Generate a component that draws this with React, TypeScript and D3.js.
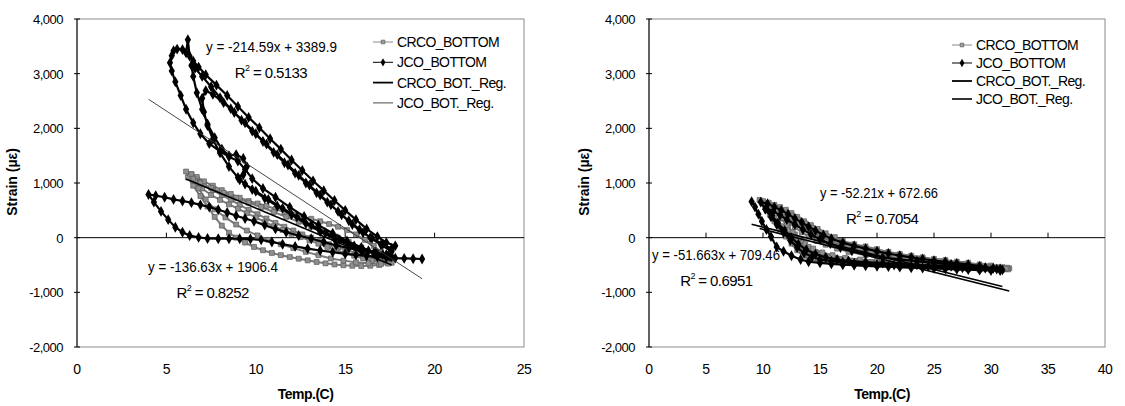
import * as d3 from "d3";

type Pt = [number, number];

// legend / tick labels
const legendNames = ["CRCO_BOTTOM", "JCO_BOTTOM", "CRCO_BOT._Reg.", "JCO_BOT._Reg."];
const yTicks = [-2000, -1000, 0, 1000, 2000, 3000, 4000];
const leftXTicks = [0, 5, 10, 15, 20, 25];
const rightXTicks = [0, 5, 10, 15, 20, 25, 30, 35, 40];

// left chart, JCO_BOTTOM (temp, strain)
const leftJco: Pt[] = [
  [19.3, -390], [18.8, -385], [18.3, -380], [17.8, -375], [17.3, -365], [16.8, -350], [16.2, -335], [15.6, -315],
  [15.0, -295], [14.3, -265], [13.6, -235], [12.9, -200], [12.2, -160], [11.5, -120], [10.9, -80], [10.3, -40],
  [9.7, -25], [9.1, -20], [8.5, -20], [7.9, -20], [7.3, -15], [6.8, 5], [6.3, 40], [5.9, 100], [5.5, 190],
  [5.1, 330], [4.7, 480], [4.3, 650], [4.0, 790], [4.4, 770], [4.9, 740], [5.4, 700], [5.9, 670], [6.4, 640],
  [6.9, 600], [7.4, 560], [7.9, 510], [8.4, 460], [8.9, 400], [9.4, 350], [9.9, 300], [10.5, 230], [11.1, 160],
  [11.7, 100], [12.4, 40], [13.1, -20], [13.8, -80], [14.5, -140], [15.2, -190], [15.9, -240], [16.6, -280],
  [17.3, -310],
  [17.6, -200], [17.1, -120], [16.5, -10], [16.0, 90], [15.4, 240], [14.8, 420], [14.2, 600], [13.6, 780],
  [13.0, 960], [12.4, 1140], [11.8, 1330], [11.2, 1520], [10.6, 1710], [10.0, 1900], [9.4, 2100], [8.8, 2290],
  [8.2, 2470], [7.6, 2620], [7.2, 2690], [7.0, 2550], [7.1, 2300], [7.3, 2050], [7.6, 1800], [8.0, 1550],
  [8.5, 1300], [9.1, 1060], [9.8, 880], [10.5, 720], [11.2, 580], [12.0, 420], [12.8, 260], [13.6, 110],
  [14.4, -20], [15.2, -140], [16.0, -230], [16.8, -300], [17.5, -340],
  [17.8, -150], [17.3, -90], [16.8, 20], [16.2, 160], [15.6, 330], [15.0, 500], [14.4, 680], [13.8, 860],
  [13.2, 1040], [12.6, 1230], [12.0, 1420], [11.4, 1620], [10.8, 1810], [10.2, 2010], [9.6, 2200], [9.0, 2400],
  [8.4, 2600], [7.8, 2790], [7.2, 2980], [6.8, 3120], [6.5, 3230], [6.3, 3320], [6.2, 3620], [6.1, 3380],
  [5.9, 3440], [5.6, 3450], [5.4, 3420], [5.3, 3330], [5.2, 3200], [5.3, 3050], [5.5, 2850], [5.8, 2600],
  [6.1, 2350], [6.5, 2100], [6.9, 1900], [7.4, 1720], [8.0, 1580], [8.5, 1480], [9.0, 1400], [9.4, 1250],
  [9.8, 1080], [10.4, 900], [11.1, 740], [11.9, 560], [12.7, 390], [13.5, 230], [14.3, 80], [15.1, -60],
  [15.9, -180], [16.7, -270], [17.4, -330],
  [17.6, -250], [17.0, -130], [16.4, 0], [15.8, 150], [15.2, 310], [14.6, 480], [14.0, 650], [13.4, 820],
  [12.8, 1000], [12.2, 1180], [11.6, 1370], [11.0, 1560], [10.4, 1760], [9.8, 1950], [9.2, 2150], [8.6, 2360],
  [8.0, 2560], [7.5, 2760], [7.0, 2950], [6.6, 3100], [6.4, 3150], [6.5, 2950], [6.7, 2650], [7.0, 2350],
  [7.3, 2080], [7.7, 1830], [8.1, 1620], [8.5, 1500], [8.9, 1520], [9.3, 1450], [9.5, 1300], [9.3, 1150],
  [9.0, 1100], [9.4, 980], [10.0, 850], [10.7, 700], [11.5, 540], [12.3, 380], [13.1, 230], [13.9, 90],
  [14.7, -40], [15.5, -150], [16.3, -240], [17.1, -310], [17.6, -350],
];

// left chart, CRCO_BOTTOM
const leftCrco: Pt[] = [
  [17.6, -460], [17.1, -420], [16.6, -380], [16.1, -330], [15.6, -280], [15.1, -230], [14.6, -180], [14.1, -120],
  [13.6, -60], [13.1, 0], [12.6, 60], [12.1, 130], [11.6, 200], [11.1, 270], [10.6, 350], [10.1, 430],
  [9.6, 510], [9.1, 600], [8.6, 690], [8.1, 780], [7.6, 870], [7.1, 970], [6.7, 1070], [6.4, 1160], [6.1, 1210],
  [6.2, 1100], [6.5, 950], [6.9, 760], [7.3, 570], [7.7, 380], [8.1, 220], [8.5, 90], [8.9, 0], [9.4, -90],
  [9.9, -170], [10.4, -230], [10.9, -280], [11.4, -320], [11.9, -355], [12.4, -385], [12.9, -415], [13.4, -445],
  [13.9, -470], [14.4, -490], [14.9, -505], [15.4, -515], [15.9, -520], [16.4, -515], [16.9, -500], [17.4, -475],
  [17.0, -260], [16.6, -150], [16.1, -40], [15.6, 60], [15.1, 140], [14.6, 200], [14.1, 250], [13.6, 300],
  [13.1, 345], [12.6, 385], [12.1, 425], [11.6, 470], [11.1, 525], [10.6, 580], [10.1, 625], [9.6, 670],
  [9.1, 730], [8.6, 800], [8.1, 870], [7.6, 950], [7.1, 1030], [6.7, 1110], [6.4, 1160], [6.6, 1040], [7.0, 900],
  [7.5, 780], [8.0, 690], [8.5, 610], [9.0, 530], [9.5, 450], [10.0, 370], [10.5, 290], [11.0, 210], [11.5, 140],
  [12.0, 70], [12.5, 10], [13.0, -50], [13.5, -110], [14.0, -170], [14.5, -230], [15.0, -280], [15.5, -330],
  [16.0, -380], [16.5, -420], [17.0, -450],
  [17.3, -380], [16.6, -280], [15.9, -180], [15.2, -80], [14.5, 20], [13.8, 110], [13.1, 200], [12.4, 290],
  [11.7, 380], [11.0, 470], [10.3, 560], [9.6, 640], [8.9, 730], [8.2, 820], [7.5, 910], [6.9, 1000], [6.5, 1080],
  [6.8, 900], [7.2, 700], [7.7, 520], [8.3, 370], [8.9, 240], [9.5, 130], [10.1, 40], [10.7, -40], [11.4, -120],
  [12.1, -190], [12.8, -260], [13.5, -320], [14.2, -380], [14.9, -420], [15.6, -450], [16.3, -470], [17.0, -480],
];

// right chart, CRCO_BOTTOM
const rightCrco: Pt[] = [
  [31.6, -560], [31, -540], [30, -510], [29, -490], [28, -460], [27, -440], [26, -410], [25, -390], [24, -360],
  [23, -330], [22, -300], [21, -260], [20, -210], [19, -160], [18, -120], [17, -60], [16.3, 10], [15.5, 80],
  [14.8, 160], [14.2, 230], [13.6, 300], [13, 380], [12.5, 450], [12, 510], [11.5, 560], [11, 600], [10.5, 640],
  [10, 670], [9.7, 690], [10.2, 560], [10.6, 420], [11, 300], [11.5, 150], [12, 20], [12.5, -110], [13, -230],
  [13.5, -330], [14, -390], [15, -430], [16, -450], [17, -470], [18, -480], [19, -490], [20, -500], [21, -505],
  [22, -520], [23, -530], [24, -540], [25, -545], [26, -555], [27, -565], [28, -575], [29, -585], [30, -590],
  [31, -590], [31.5, -580],
  [31.2, -570], [30, -550], [29, -530], [28, -510], [27, -490], [26, -470], [25, -450], [24, -430], [23, -400],
  [22, -370], [21, -330], [20, -290], [19, -250], [18, -200], [17, -150], [16, -80], [15.2, 0], [14.5, 80],
  [13.8, 170], [13.2, 260], [12.6, 340], [12, 420], [11.4, 480], [10.8, 530], [10.4, 560], [10.8, 420],
  [11.3, 260], [11.8, 120], [12.3, 0], [12.8, -120], [13.4, -240], [14, -320], [14.8, -380], [15.6, -420],
  [16.5, -440], [17.5, -460], [18.5, -470], [19.5, -480], [20.5, -490], [21.5, -500], [22.5, -510], [23.5, -515],
  [24.5, -525], [25.5, -530], [26.5, -540], [27.5, -550], [28.5, -555], [29.5, -560], [30.5, -565],
  [30, -540], [28, -500], [26, -450], [24, -400], [22, -330], [20, -250], [19, -210], [18, -160], [17, -110],
  [16, -40], [15, 40], [14.3, 110], [13.6, 200], [13, 280], [12.4, 360], [11.8, 430], [11.2, 480], [11.6, 350],
  [12.2, 200], [12.8, 60], [13.4, -60], [14, -170], [14.6, -260], [15.3, -330], [16, -380], [17, -410],
  [18, -430], [19, -450], [20, -460], [21, -470], [22, -480], [23, -490], [24, -500], [25, -505], [26, -515],
  [27, -525], [28, -530], [29, -540],
  [31.4, -550], [29.5, -520], [27.5, -480], [25.5, -430], [23.5, -380], [21.5, -320], [19.5, -240], [18.5, -190],
  [17.5, -130], [16.5, -60], [15.7, 20], [15, 100], [14.3, 180], [13.7, 260], [13.1, 330], [12.5, 400],
  [11.9, 460], [11.3, 520], [10.7, 570], [10.1, 620], [10.5, 500], [11, 360], [11.6, 210], [12.2, 80],
  [12.8, -40], [13.5, -150], [14.2, -240], [15, -310], [15.8, -360], [16.8, -400], [18, -430], [19.5, -450],
  [21, -470], [22.5, -490], [24, -505], [25.5, -520], [27, -530], [28.5, -545], [30, -555], [31.3, -565],
  [30.8, -555], [29, -525], [27, -495], [25, -465], [23, -425], [21, -380], [19, -320], [17.5, -260],
  [16.5, -200], [15.5, -130], [14.7, -60], [14, 20], [13.4, 100], [12.8, 190], [12.2, 280], [11.7, 360],
  [12.1, 230], [12.6, 100], [13.1, -20], [13.7, -120], [14.4, -200], [15.2, -270], [16.1, -320], [17.2, -370],
  [18.5, -400], [20, -420], [21.5, -440], [23, -460], [24.5, -480], [26, -495], [27.5, -510], [29, -525],
  [30.5, -540],
];

// right chart, JCO_BOTTOM
const rightJco: Pt[] = [
  [9.0, 660], [9.3, 560], [9.6, 430], [9.9, 300], [10.3, 150], [10.7, 20], [11.2, -170], [11.8, -250],
  [12.5, -330], [13.3, -400], [14, -440], [15, -460], [16, -480], [17, -495], [18, -505], [19, -515], [20, -525],
  [21, -530], [22, -540], [23, -550], [24, -555], [25, -560], [26, -570], [27, -580], [28, -585], [29, -595],
  [30, -600], [30.8, -600], [30.2, -560], [29, -520], [28, -490], [27, -470], [26, -440], [25, -420], [24, -390],
  [23, -360], [22, -330], [21, -290], [20, -250], [19, -200], [18, -150], [17, -90], [16, -20], [15.3, 50],
  [14.6, 130], [14, 200], [13.4, 280], [12.8, 350], [12.2, 430], [11.6, 500], [11, 560], [10.4, 620], [9.8, 650],
  [10.2, 520], [10.7, 380], [11.2, 240], [11.8, 90], [12.4, -50], [13, -180], [13.6, -280], [14.3, -350],
  [15, -400], [16, -430], [17, -450], [18, -465], [19, -475], [20, -490], [21.5, -500], [23, -515], [24.5, -525],
  [26, -540], [27.5, -550], [29, -560], [30.5, -575],
  [31, -590], [29.5, -550], [28, -520], [26.5, -490], [25, -460], [23.5, -430], [22, -400], [20.5, -360],
  [19, -300], [17.8, -240], [16.8, -180], [15.9, -110], [15, -30], [14.2, 60], [13.5, 150], [12.8, 240],
  [12.1, 330], [11.5, 410], [10.9, 480], [10.3, 540], [10.8, 400], [11.3, 270], [11.9, 130], [12.5, 0],
  [13.1, -120], [13.8, -220], [14.6, -300], [15.5, -360], [16.5, -400], [17.5, -425], [19, -445], [20.5, -465],
  [22, -480], [23.5, -495], [25, -510], [26.5, -525], [28, -540], [29.5, -555], [30.8, -570],
];

// trend lines (from the Excel labels)
const leftCrcoReg = { slope: -136.63, intercept: 1906.4, eq: "y = -136.63x + 1906.4", r2: "0.8252" };
const leftJcoReg = { slope: -214.59, intercept: 3389.9, eq: "y = -214.59x + 3389.9", r2: "0.5133" };
const rightCrcoReg = { slope: -52.21, intercept: 672.66, eq: "y = -52.21x + 672.66", r2: "0.7054" };
const rightJcoReg = { slope: -51.663, intercept: 709.46, eq: "y = -51.663x + 709.46", r2: "0.6951" };

const FONT = "'Liberation Sans', Arial, sans-serif";
const fmt = (v: number) => d3.format(",")(v).replace("\u2212", "-");

type Reg = typeof leftCrcoReg;
type LabelPos = { x: number; y: number; w: number };

function Panel(props: {
  left: number;
  right: number;
  xMax: number;
  xTicks: number[];
  crco: Pt[];
  jco: Pt[];
  crcoReg: Reg;
  jcoReg: Reg;
  crcoLabel: LabelPos;
  jcoLabel: LabelPos;
  legend: { x: number; y: number; step: number };
  jcoRegColor: string;
  jcoRegWidth: number;
}) {
  const { left, right, xMax, xTicks, crco, jco, crcoReg, jcoReg, crcoLabel, jcoLabel, legend } = props;
  const top = 19;
  const bottom = 347;
  const x = d3.scaleLinear().domain([0, xMax]).range([left, right]);
  const y = d3.scaleLinear().domain([-2000, 4000]).range([bottom, top]);
  const line = d3
    .line<Pt>()
    .x((d) => x(d[0]))
    .y((d) => y(d[1]));
  const regLine = (reg: Reg, data: Pt[]) => {
    const ext = d3.extent(data, (d) => d[0]) as [number, number];
    return line(ext.map((t) => [t, reg.slope * t + reg.intercept] as Pt));
  };
  const diamond = d3.symbol(d3.symbolDiamond, 34)();
  const square = d3.symbol(d3.symbolSquare, 24)();
  const legDiamond = d3.symbol(d3.symbolDiamond, 20)();
  const legSquare = d3.symbol(d3.symbolSquare, 14)();
  const midX = (left + right) / 2;

  const eqLabel = (reg: Reg, p: LabelPos) => (
    <g fontFamily={FONT} fill="#000">
      <text x={p.x} y={p.y} fontSize={15} textLength={p.w} lengthAdjust="spacingAndGlyphs">
        {reg.eq}
      </text>
      <text x={p.x + p.w * 0.22} y={p.y + 26} fontSize={15} letterSpacing={-0.6}>
        R<tspan fontSize={9} dy={-7}>2</tspan>
        <tspan dy={7}> = {reg.r2}</tspan>
      </text>
    </g>
  );

  return (
    <g>
      <rect x={left} y={top} width={right - left} height={bottom - top} fill="#fff" stroke="#8c8c8c" strokeWidth={1} />
      <line x1={left} x2={left} y1={top} y2={bottom} stroke="#000" />
      <line x1={left} x2={right} y1={y(0)} y2={y(0)} stroke="#000" />
      {yTicks.map((t) => (
        <g key={t}>
          <line x1={left - 3} x2={left + 3} y1={y(t)} y2={y(t)} stroke="#000" />
          <text x={left - 14} y={y(t) + 5} textAnchor="end" fontSize={13} fontFamily={FONT} letterSpacing={-0.5}>
            {fmt(t)}
          </text>
        </g>
      ))}
      {xTicks.map((t) => (
        <g key={t}>
          {t > 0 && t < xMax && <line x1={x(t)} x2={x(t)} y1={y(0)} y2={y(0) - 5} stroke="#000" />}
          <text x={x(t)} y={374} textAnchor="middle" fontSize={14} fontFamily={FONT} letterSpacing={-0.5}>
            {t}
          </text>
        </g>
      ))}
      {/* CRCO series */}
      <path d={line(crco) ?? ""} fill="none" stroke="#7a7a7a" strokeWidth={2} />
      {crco.map((d, i) => (
        <path key={i} d={square} transform={`translate(${x(d[0])},${y(d[1])})`} fill="#8f8f8f" stroke="#5a5a5a" strokeWidth={0.7} />
      ))}
      {/* JCO series */}
      <path d={line(jco) ?? ""} fill="none" stroke="#000" strokeWidth={2.2} />
      {jco.map((d, i) => (
        <path key={i} d={diamond} transform={`translate(${x(d[0])},${y(d[1])})`} fill="#000" />
      ))}
      {/* trend lines */}
      <path d={regLine(crcoReg, crco) ?? ""} fill="none" stroke="#000" strokeWidth={1.6} />
      <path d={regLine(jcoReg, jco) ?? ""} fill="none" stroke={props.jcoRegColor} strokeWidth={props.jcoRegWidth} />
      {eqLabel(jcoReg, jcoLabel)}
      {eqLabel(crcoReg, crcoLabel)}
      {/* legend */}
      {legendNames.map((name, i) => {
        const ly = legend.y + i * legend.step;
        const lx = legend.x;
        return (
          <g key={name}>
            {i === 0 && (
              <>
                <line x1={lx} x2={lx + 20} y1={ly} y2={ly} stroke="#8a8a8a" strokeWidth={1} />
                <path d={legSquare} transform={`translate(${lx + 10},${ly})`} fill="#9a9a9a" stroke="#555" strokeWidth={0.6} />
              </>
            )}
            {i === 1 && (
              <>
                <line x1={lx} x2={lx + 20} y1={ly} y2={ly} stroke="#000" strokeWidth={1} />
                <path d={legDiamond} transform={`translate(${lx + 10},${ly})`} fill="#000" />
              </>
            )}
            {i === 2 && <line x1={lx} x2={lx + 20} y1={ly} y2={ly} stroke="#000" strokeWidth={1.8} />}
            {i === 3 && (
              <line x1={lx} x2={lx + 20} y1={ly} y2={ly} stroke={props.jcoRegColor} strokeWidth={props.jcoRegWidth} />
            )}
            <text x={lx + 24} y={ly + 5} fontSize={14} fontFamily={FONT} letterSpacing={-0.6}>
              {name}
            </text>
          </g>
        );
      })}
      <text
        transform={`translate(${left - 60},${182}) rotate(-90)`}
        textAnchor="middle"
        fontSize={14}
        fontWeight="bold"
        fontFamily={FONT}
      >
        Strain (µε)
      </text>
      <text x={midX + 5} y={399} textAnchor="middle" fontSize={14} fontWeight="bold" fontFamily={FONT} letterSpacing={-0.5}>
        Temp.(C)
      </text>
    </g>
  );
}

export default function App() {
  return (
    <svg width={1125} height={406} style={{ position: "absolute", left: 0, top: 0, background: "#fff" }}>
      <Panel
        left={77}
        right={524}
        xMax={25}
        xTicks={leftXTicks}
        crco={leftCrco}
        jco={leftJco}
        crcoReg={leftCrcoReg}
        jcoReg={leftJcoReg}
        jcoLabel={{ x: 206, y: 52, w: 131 }}
        crcoLabel={{ x: 148, y: 272, w: 130 }}
        legend={{ x: 373, y: 42, step: 20.3 }}
        jcoRegColor="#333"
        jcoRegWidth={0.9}
      />
      <Panel
        left={649}
        right={1105}
        xMax={40}
        xTicks={rightXTicks}
        crco={rightCrco}
        jco={rightJco}
        crcoReg={rightCrcoReg}
        jcoReg={rightJcoReg}
        crcoLabel={{ x: 820, y: 198, w: 118 }}
        jcoLabel={{ x: 652, y: 260, w: 128 }}
        legend={{ x: 952, y: 45, step: 18 }}
        jcoRegColor="#000"
        jcoRegWidth={1.6}
      />
    </svg>
  );
}
